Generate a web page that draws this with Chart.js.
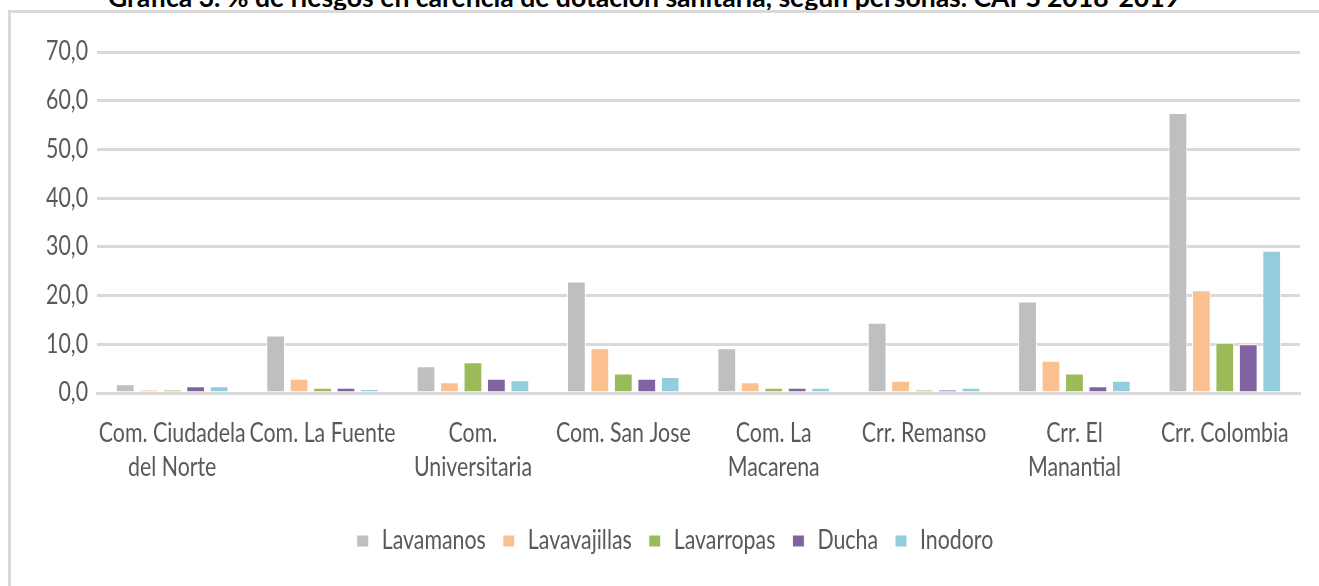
<!DOCTYPE html>
<html>
<head>
<meta charset="utf-8">
<script src="https://cdn.jsdelivr.net/npm/chart.js@4"></script>
<style>
  body { margin: 0; background: #fff; overflow: hidden; }
  #wrap { position: relative; width: 1319px; height: 586px; }
  #titulo {
    position: absolute; left: 644px; top: -17px;
    font: bold 27px Lato, sans-serif; line-height: 27px;
    color: #000; white-space: nowrap;
    transform-origin: 0 0;
  }
  #marco {
    position: absolute; left: 8px; top: 10px; width: 1400px; height: 600px;
    border-left: 3px solid #d9d9d9; border-top: 3px solid #d9d9d9;
  }
  canvas { position: absolute; left: 0; top: 0; }
</style>
</head>
<body>
<div id="wrap">
  <div id="titulo">Gráfica 3. % de riesgos en carencia de dotación sanitaria, según personas. CAPS 2018-2019</div>
  <div id="marco"></div>
  <canvas id="grafica" width="1319" height="586"></canvas>
</div>
<script>
// categorias (comunas y corregimientos)
const CATEGORIAS = [
  ['Com. Ciudadela', 'del Norte'],
  'Com. La Fuente',
  ['Com.', 'Universitaria'],
  'Com. San Jose',
  ['Com. La', 'Macarena'],
  'Crr. Remanso',
  ['Crr. El', 'Manantial'],
  'Crr. Colombia'
];

const LAVAMANOS    = [1.8, 11.8, 5.5, 22.9, 9.2, 14.4, 18.8, 57.5];
const LAVAVAJILLAS = [0.7, 2.9, 2.2, 9.2, 2.2, 2.5, 6.6, 21.1];
const LAVARROPAS   = [0.7, 1.1, 6.3, 4.0, 1.1, 0.7, 4.0, 10.3];
const DUCHA        = [1.4, 1.1, 2.9, 2.9, 1.1, 0.7, 1.4, 10.0];
const INODORO      = [1.4, 0.8, 2.6, 3.3, 1.1, 1.1, 2.5, 29.2];

const Y_MIN = 0, Y_MAX = 70, Y_PASO = 10;

const FUENTE = 'Lato, sans-serif';
const GRIS_TEXTO = '#595959';
const GRIS_LINEA = '#d9d9d9';
// el texto del original es angosto (tipo Calibri comprimido)
const ANGOSTO = 0.82;

// titulo: ajustar el ancho como en la imagen
const titulo = document.getElementById('titulo');
const anchoTitulo = titulo.getBoundingClientRect().width;
const escalaTitulo = 1072 / anchoTitulo;
titulo.style.transform = 'scaleX(' + escalaTitulo + ')';
titulo.style.left = (644 - 1072 / 2) + 'px';

let ctx = document.getElementById('grafica').getContext('2d');

// texto comprimido horizontalmente
const fillTextOriginal = ctx.fillText.bind(ctx);
const measureTextOriginal = ctx.measureText.bind(ctx);
ctx.fillText = function (texto, x, y, maxAncho) {
  ctx.save();
  ctx.translate(x, y);
  ctx.scale(ANGOSTO, 1);
  if (maxAncho) fillTextOriginal(texto, 0, 0, maxAncho / ANGOSTO);
  else fillTextOriginal(texto, 0, 0);
  ctx.restore();
};
ctx.measureText = function (texto) {
  const m = measureTextOriginal(texto);
  return {
    width: m.width * ANGOSTO,
    actualBoundingBoxAscent: m.actualBoundingBoxAscent,
    actualBoundingBoxDescent: m.actualBoundingBoxDescent,
    actualBoundingBoxLeft: m.actualBoundingBoxLeft * ANGOSTO,
    actualBoundingBoxRight: m.actualBoundingBoxRight * ANGOSTO
  };
};

function serie(nombre, datos, color) {
  return {
    label: nombre,
    data: datos,
    backgroundColor: color,
    borderColor: '#ffffff',
    borderWidth: 1,
    categoryPercentage: 0.78,
    barPercentage: 0.8
  };
}

// mover el centro de la leyenda (como en el original)
const moverLeyenda = {
  id: 'moverLeyenda',
  afterLayout(chart) {
    chart.legend.left = 0;
    chart.legend.right = 1350;
  }
};

let grafica = new Chart(ctx, {
  type: 'bar',
  data: {
    labels: CATEGORIAS,
    datasets: [
      serie('Lavamanos', LAVAMANOS, '#bfbfbf'),
      serie('Lavavajillas', LAVAVAJILLAS, '#fac090'),
      serie('Lavarropas', LAVARROPAS, '#9bbb59'),
      serie('Ducha', DUCHA, '#8064a2'),
      serie('Inodoro', INODORO, '#93cddd')
    ]
  },
  options: {
    responsive: false,
    animation: false,
    layout: { padding: { top: 52, right: 19, bottom: 22, left: 0 } },
    plugins: {
      tooltip: { enabled: false },
      legend: {
        position: 'bottom',
        labels: {
          boxWidth: 12,
          boxHeight: 12,
          padding: 17,
          color: GRIS_TEXTO,
          font: { family: FUENTE, size: 26 }
        }
      }
    },
    scales: {
      x: {
        grid: { display: false, drawTicks: false },
        border: { color: GRIS_LINEA, width: 3 },
        ticks: {
          color: GRIS_TEXTO,
          padding: 24,
          maxRotation: 0,
          autoSkip: false,
          font: { family: FUENTE, size: 26, lineHeight: 1.3 }
        },
        afterFit(scale) { scale.height = 118; }
      },
      y: {
        min: Y_MIN,
        max: Y_MAX,
        grid: { color: GRIS_LINEA, lineWidth: 3, drawTicks: false },
        border: { display: false },
        ticks: {
          stepSize: Y_PASO,
          color: GRIS_TEXTO,
          padding: 9,
          font: { family: FUENTE, size: 26 },
          callback: v => v.toFixed(1).replace('.', ',')
        },
        afterFit(scale) { scale.width = 97; }
      }
    }
  },
  plugins: [moverLeyenda]
});
</script>
</body>
</html>
